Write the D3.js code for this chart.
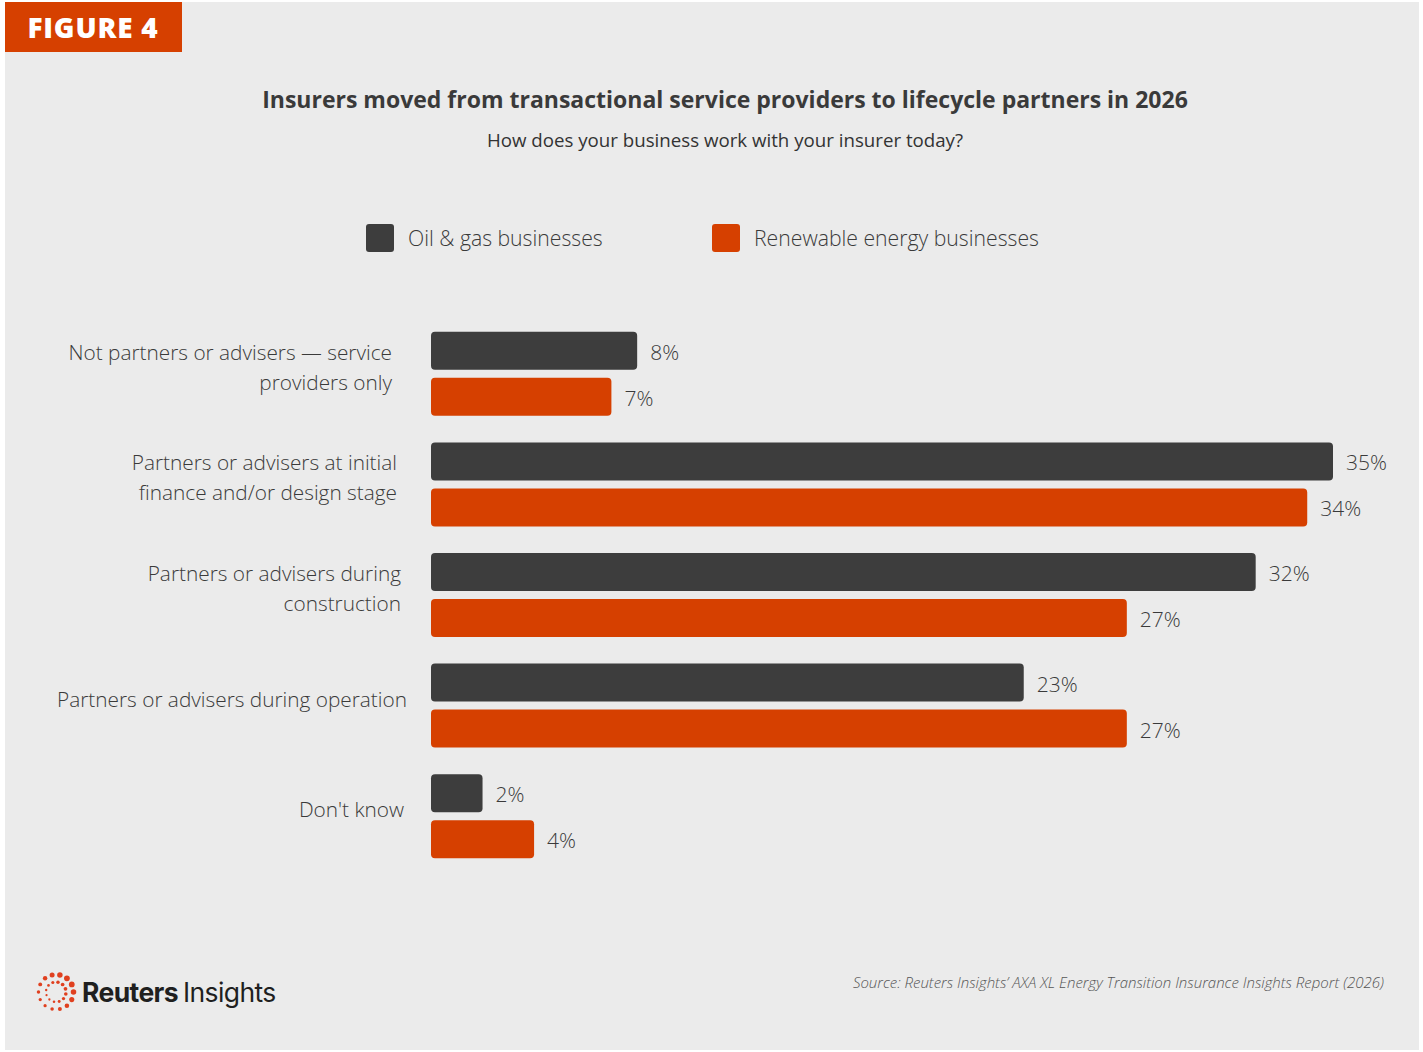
<!DOCTYPE html>
<html>
<head>
<meta charset="utf-8">
<script src="https://cdn.jsdelivr.net/npm/d3@7"></script>
<style>
  html, body { margin: 0; padding: 0; background: #ffffff; }
  svg { display: block; }
</style>
</head>
<body>
<svg id="chart" width="1423" height="1052"></svg>
<script>
// Survey answers: how each business type works with its insurer
const categories = [
  ["Not partners or advisers \u2014 service", "providers only"],
  ["Partners or advisers at initial", "finance and/or design stage"],
  ["Partners or advisers during", "construction"],
  ["Partners or advisers during operation"],
  ["Don't know"]
];
const seriesNames = ["Oil & gas businesses", "Renewable energy businesses"];
const oilGas = [8, 35, 32, 23, 2];
const renewable = [7, 34, 27, 27, 4];

const titleText = "Insurers moved from transactional service providers to lifecycle partners in 2026";
const subtitleText = "How does your business work with your insurer today?";
const sourceText = "Source: Reuters Insights\u2019 AXA XL Energy Transition Insurance Insights Report (2026)";

const colors = ["#3d3d3d", "#d64000"];
const bg = "#ebebeb";
const textCol = "#3a3a3a";
const bodyFont = "'Open Sans', 'Noto Sans', sans-serif";

// right edge of each category label block
const labelRight = [392, 397, 401, 407, 404];

const svg = d3.select("#chart");

// panel
svg.append("rect").attr("x", 5).attr("y", 2).attr("width", 1414).attr("height", 1048).attr("fill", bg);

// figure tag
svg.append("rect").attr("x", 5).attr("y", 2).attr("width", 177).attr("height", 50).attr("fill", "#d64000");
svg.append("text").attr("x", 93).attr("y", 37.5).attr("text-anchor", "middle")
  .attr("font-family", bodyFont).attr("font-weight", 800).attr("font-size", 28)
  .attr("letter-spacing", 0.8)
  .attr("fill", "#ffffff").text("FIGURE 4");

// title & subtitle
svg.append("text").attr("x", 725).attr("y", 108).attr("text-anchor", "middle")
  .attr("font-family", bodyFont).attr("font-weight", 700).attr("font-size", 23)
  .attr("fill", textCol).text(titleText);
svg.append("text").attr("x", 725).attr("y", 147).attr("text-anchor", "middle")
  .attr("font-family", bodyFont).attr("font-weight", 400).attr("font-size", 18.7)
  .attr("fill", "#333").text(subtitleText);

// legend
const legendX = [366, 712];
const legend = svg.append("g");
seriesNames.forEach((name, i) => {
  legend.append("rect").attr("x", legendX[i]).attr("y", 224).attr("width", 28).attr("height", 28)
    .attr("rx", 3).attr("fill", colors[i]);
  legend.append("text").attr("x", legendX[i] + 42).attr("y", 246)
    .attr("font-family", bodyFont).attr("font-weight", 300).attr("font-size", 21.2)
    .attr("fill", textCol).text(name);
});

// scales
const x = d3.scaleLinear().domain([0, 35]).range([431, 1333]);
const y = d3.scaleBand().domain(d3.range(categories.length)).range([318.5, 871.5]).paddingInner(0).paddingOuter(0);
const barH = 38, barGap = 8;
const barOffset = (y.bandwidth() - (2 * barH + barGap)) / 2;

const series = [oilGas, renewable];
const groups = svg.append("g").selectAll("g").data(categories).join("g")
  .attr("transform", (d, i) => `translate(0,${y(i)})`);

series.forEach((vals, s) => {
  groups.append("rect")
    .attr("x", x(0))
    .attr("y", barOffset + s * (barH + barGap))
    .attr("width", (d, i) => x(vals[i]) - x(0))
    .attr("height", barH)
    .attr("rx", 4)
    .attr("fill", colors[s]);
  groups.append("text")
    .attr("x", (d, i) => x(vals[i]) + 13)
    .attr("y", barOffset + s * (barH + barGap) + barH / 2 + 9)
    .attr("font-family", bodyFont).attr("font-weight", 300).attr("font-size", 21)
    .attr("fill", textCol)
    .text((d, i) => vals[i] + "%");
});

// category labels
groups.each(function(lines, i) {
  const g = d3.select(this);
  const mid = y.bandwidth() / 2;
  const lh = 30;
  const startY = lines.length === 1 ? mid + 1 : mid - 21 + 7;
  const t = g.append("text").attr("text-anchor", "end")
    .attr("font-family", bodyFont).attr("font-weight", 300).attr("font-size", 20.8)
    .attr("fill", textCol);
  lines.forEach((ln, k) => {
    t.append("tspan").attr("x", labelRight[i]).attr("y", startY + k * lh).text(ln);
  });
});

// footer: logo mark of dots
const logo = svg.append("g").attr("transform", "translate(56,992)");
const outer = d3.range(14).map(k => ({a: k / 14 * 2 * Math.PI, r: 17.5, s: 1.6 + 1.3 * (0.5 + 0.5 * Math.sin(k / 14 * 2 * Math.PI + 2.2))}));
const inner = d3.range(12).map(k => ({a: k / 12 * 2 * Math.PI + 0.2, r: 10, s: 1.1 + 0.8 * (0.5 + 0.5 * Math.sin(k / 12 * 2 * Math.PI + 2.2))}));
logo.selectAll("circle").data(outer.concat(inner)).join("circle")
  .attr("cx", d => d.r * Math.cos(d.a)).attr("cy", d => d.r * Math.sin(d.a))
  .attr("r", d => d.s).attr("fill", "#e0401f");
const brand = svg.append("text").attr("x", 82).attr("y", 1002)
  .attr("font-family", "Inter, 'Open Sans', sans-serif").attr("font-size", 26.5).attr("fill", "#1f1f1f")
  .attr("letter-spacing", -0.6);
brand.append("tspan").attr("font-weight", 700).text("Reuters");
brand.append("tspan").attr("font-weight", 400).attr("dx", 5).text("Insights");

svg.append("text").attr("x", 1384).attr("y", 988).attr("text-anchor", "end")
  .attr("font-family", bodyFont).attr("font-style", "italic").attr("font-weight", 300).attr("font-size", 15)
  .attr("fill", "#555").text(sourceText);
</script>
</body>
</html>
